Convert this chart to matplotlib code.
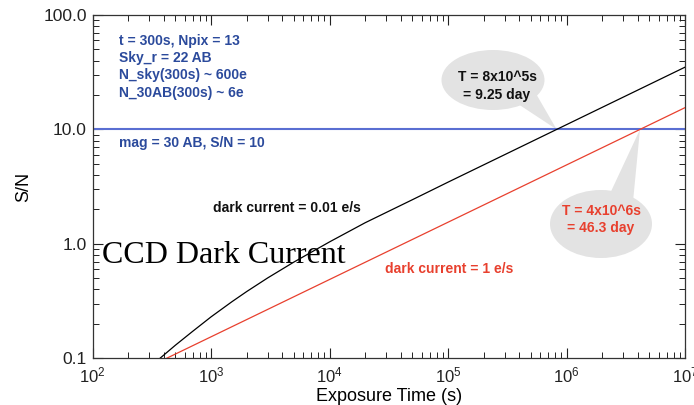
import numpy as np
import matplotlib
matplotlib.use("Agg")
import matplotlib.pyplot as plt
from matplotlib.patches import Ellipse, Polygon
from matplotlib.ticker import FuncFormatter, LogLocator

plt.rcParams['font.family'] = ['Liberation Sans', 'DejaVu Sans']
plt.rcParams['mathtext.fontset'] = 'custom'
plt.rcParams['mathtext.rm'] = 'Liberation Sans'
plt.rcParams['mathtext.it'] = 'Liberation Sans:italic'
plt.rcParams['mathtext.bf'] = 'Liberation Sans:bold'

# values
t_dark001 = [371, 500, 700, 1000, 1500, 2000, 3000, 5000, 1.0e4, 2.0e4,
             5.0e4, 1.0e5, 3.0e5, 8.26e5, 1.0e7]
sn_dark001 = [0.1, 0.13, 0.172, 0.23, 0.312, 0.383, 0.503, 0.693, 1.04, 1.53,
              2.43, 3.46, 6.01, 10.0, 35.0]
t_dark1 = [422, 14860, 4.17e6, 1.0e7]
sn_dark1 = [0.1, 0.595, 10.0, 15.5]
sn_limit = 10.0
cross_dark001 = (8.26e5, 10.0)
cross_dark1 = (4.17e6, 10.0)

info_lines = ["t = 300s, Npix = 13", "Sky_r = 22 AB",
              "N_sky(300s) ~ 600e", "N_30AB(300s) ~ 6e"]

blue = '#2b4a9c'
red = '#e8402e'
grey = '#e3e3e3'

fig = plt.figure(figsize=(6.94, 4.05), dpi=100)
W, H = 694, 405
ax = fig.add_axes([92.5 / W, 1 - 358.3 / H, 592.5 / W, 343.3 / H])


def px(x, y):
    # pixel position in the figure -> axes fraction
    return ((x - 92.5) / 592.5, (358.3 - y) / 343.3)


ax.plot(t_dark001, sn_dark001, color='black', lw=0.9, zorder=3)
ax.plot(t_dark1, sn_dark1, color=red, lw=0.9, zorder=3)
ax.axhline(sn_limit, color='#5a6ed2', lw=1.5, zorder=2)

ax.set_xscale('log')
ax.set_yscale('log')
ax.set_xlim(1e2, 1e7)
ax.set_ylim(0.1, 100)

ax.yaxis.set_major_formatter(FuncFormatter(lambda v, p: "%.1f" % v))
ax.yaxis.set_minor_formatter(FuncFormatter(lambda v, p: ""))
ax.xaxis.set_major_locator(LogLocator(base=10, numticks=10))
ax.tick_params(which='both', direction='in', top=True, right=True,
               colors='#222222')
ax.tick_params(axis='y', labelsize=12.5, pad=4)
ax.tick_params(axis='x', labelsize=12, pad=5)
ax.tick_params(which='major', length=7, width=0.8)
ax.tick_params(which='minor', length=4, width=0.7)
for s in ax.spines.values():
    s.set_color('#333333')
    s.set_linewidth(0.9)

ax.set_xlabel("Exposure Time (s)", fontsize=13, labelpad=2)
ax.set_ylabel("S/N", fontsize=13, labelpad=8)

# speech bubbles
tr = ax.transAxes
tip1 = tr.inverted().transform(ax.transData.transform(cross_dark001))
tip2 = tr.inverted().transform(ax.transData.transform(cross_dark1))

e1 = Ellipse(px(493, 80), 103 / 592.5, 60 / 343.3, transform=tr,
             facecolor=grey, edgecolor='none', zorder=1)
ax.add_patch(e1)
ax.add_patch(Polygon([px(512, 100), px(535, 92), tip1], closed=True,
                     transform=tr, facecolor=grey, edgecolor='none', zorder=1))

e2 = Ellipse(px(601, 224), 102 / 592.5, 68 / 343.3, transform=tr,
             facecolor=grey, edgecolor='none', zorder=1)
ax.add_patch(e2)
ax.add_patch(Polygon([px(600, 215), px(632, 212), tip2], closed=True,
                     transform=tr, facecolor=grey, edgecolor='none', zorder=1))

ax.text(*px(497, 77), "T = 8x10^5s", transform=tr, ha='center', va='center',
        fontsize=10, fontweight='bold', color='#111111', zorder=4)
ax.text(*px(497, 95), "= 9.25 day", transform=tr, ha='center', va='center',
        fontsize=10, fontweight='bold', color='#111111', zorder=4)
ax.text(*px(601, 211), "T = 4x10^6s", transform=tr, ha='center', va='center',
        fontsize=10, fontweight='bold', color=red, zorder=4)
ax.text(*px(601, 228), "= 46.3 day", transform=tr, ha='center', va='center',
        fontsize=10, fontweight='bold', color=red, zorder=4)

for i, line in enumerate(info_lines):
    ax.text(*px(119, 41 + 17.2 * i), line, transform=tr, ha='left', va='center',
            fontsize=10, fontweight='bold', color=blue)
ax.text(*px(119, 143), "mag = 30 AB, S/N = 10", transform=tr, ha='left',
        va='center', fontsize=10, fontweight='bold', color=blue)
ax.text(*px(213, 208), "dark current = 0.01 e/s", transform=tr, ha='left',
        va='center', fontsize=10, fontweight='bold', color='#111111')
ax.text(*px(385, 269), "dark current = 1 e/s", transform=tr, ha='left',
        va='center', fontsize=10, fontweight='bold', color=red)

fig.text(102 / W, 1 - 263 / H, "CCD Dark Current", family='Liberation Serif',
         fontsize=23, color='black', va='baseline', ha='left', zorder=5)

fig.savefig("out.png", dpi=100)
